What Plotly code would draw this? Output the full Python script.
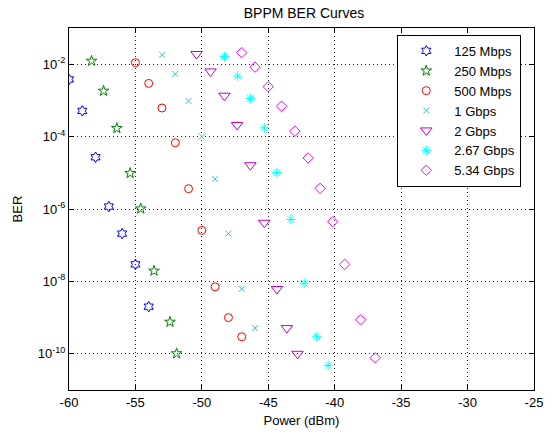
import plotly.graph_objects as go

# ---- data ----
x_125 = [-60, -59, -58, -57, -56, -55, -54]
ber_125 = [3.80e-3, 5.13e-4, 2.69e-5, 1.17e-6, 2.09e-7, 2.95e-8, 2.0e-9]

x_250 = [-58.3, -57.4, -56.4, -55.4, -54.6, -53.6, -52.4, -51.9]
ber_250 = [1.23e-2, 1.82e-3, 1.70e-4, 9.77e-6, 1.02e-6, 1.95e-8, 7.59e-10, 1.02e-10]

x_500 = [-55, -54, -53, -52, -51, -50, -49, -48, -47]
ber_500 = [1.10e-2, 2.95e-3, 6.17e-4, 6.76e-5, 3.63e-6, 2.57e-7, 7.08e-9, 1.0e-9, 2.95e-10]

x_1g = [-53, -52, -51, -50, -49, -48, -47, -46]
ber_1g = [1.82e-2, 5.37e-3, 9.55e-4, 1.0e-4, 6.76e-6, 2.09e-7, 6.17e-9, 5.13e-10]

x_2g = [-50.4, -49.35, -48.3, -47.35, -46.35, -45.3, -44.35, -43.6, -42.8]
ber_2g = [1.91e-2, 6.31e-3, 1.35e-3, 2.09e-4, 1.62e-5, 4.17e-7, 6.17e-9, 5.13e-10, 1.0e-10]

x_267g = [-48.3, -47.3, -46.35, -45.3, -44.35, -43.3, -42.3, -41.35, -40.5]
ber_267g = [1.62e-2, 4.68e-3, 1.12e-3, 1.74e-4, 1.02e-5, 5.13e-7, 8.91e-9, 2.95e-10, 4.79e-11]

x_534g = [-47, -46, -45, -44, -43, -42, -41.1, -40.15, -39.25, -38.05, -36.95]
ber_534g = [2.09e-2, 8.32e-3, 2.40e-3, 6.92e-4, 1.41e-4, 2.57e-5, 3.72e-6, 4.47e-7, 2.95e-8, 8.71e-10, 7.76e-11]

x_ticks = [-60, -55, -50, -45, -40, -35, -30, -25]
y_tickvals = [1e-2, 1e-4, 1e-6, 1e-8, 1e-10]
y_ticktext = ["10<sup>-2</sup>", "10<sup>-4</sup>", "10<sup>-6</sup>", "10<sup>-8</sup>", "10<sup>-10</sup>"]

series = [
    ("125 Mbps", x_125, ber_125, "hexagram-open", "#0000FF", 8),
    ("250 Mbps", x_250, ber_250, "star-open", "#008000", 8),
    ("500 Mbps", x_500, ber_500, "circle-open", "#FF0000", 8),
    ("1 Gbps", x_1g, ber_1g, "x-thin-open", "#33C6C6", 6),
    ("2 Gbps", x_2g, ber_2g, "triangle-down-open", "#BF00BF", 10),
    ("2.67 Gbps", x_267g, ber_267g, "asterisk-open", "#00FFFF", 8),
    ("5.34 Gbps", x_534g, ber_534g, "diamond-open", "#FF00FF", 8),
]

FONT = "Liberation Sans, Arial, sans-serif"

fig = go.Figure()
for name, xs, ys, sym, col, sz in series:
    fig.add_trace(go.Scatter(
        x=xs, y=ys, mode="markers", name=name,
        marker=dict(symbol=sym, color=col, size=sz, line=dict(color=col, width=1)),
    ))

axis_common = dict(
    showline=True, linecolor="black", linewidth=1, mirror="ticks",
    ticks="inside", ticklen=5, tickcolor="black",
    showgrid=True, gridcolor="#222222", griddash="1px,3px", gridwidth=1,
    zeroline=False, tickfont=dict(family=FONT, size=13, color="black"),
)

fig.update_layout(
    width=555, height=438,
    margin=dict(l=69, r=16, t=28, b=41),
    paper_bgcolor="white", plot_bgcolor="white",
    font=dict(family=FONT, size=13, color="black"),
    title=dict(text="BPPM BER Curves", x=(69 + 539) / 2 / 555, xanchor="center",
               y=1 - 13 / 438, yanchor="middle", yref="container",
               font=dict(family=FONT, size=14, color="black")),
    showlegend=True,
    legend=dict(x=0.706, y=0.981, xanchor="left", yanchor="top",
                bordercolor="black", borderwidth=1, bgcolor="white",
                itemwidth=46, tracegroupgap=0,
                font=dict(family=FONT, size=13, color="black")),
)
fig.update_xaxes(range=[-60, -25], tickvals=x_ticks, ticktext=[str(v) for v in x_ticks],
                 title=dict(text="Power (dBm)", standoff=7, font=dict(family=FONT, size=13)),
                 **axis_common)
fig.update_yaxes(type="log", range=[-11, -1], tickvals=y_tickvals, ticktext=y_ticktext,
                 title=dict(text="BER", standoff=12, font=dict(family=FONT, size=13)),
                 **axis_common)

fig.write_html("out.html")
